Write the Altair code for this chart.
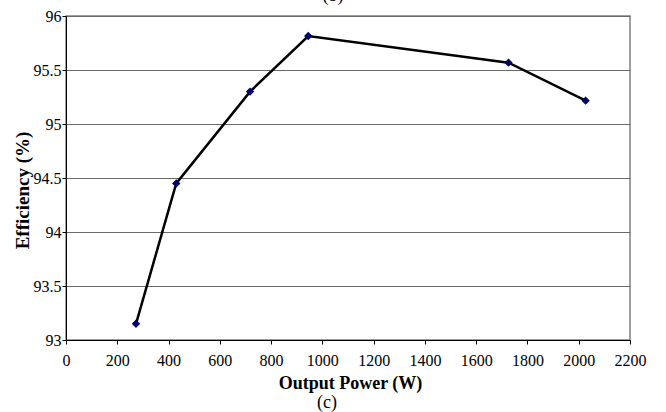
import altair as alt
import pandas as pd

# Data
power = [273, 430, 718, 945, 1726, 2027]
efficiency = [93.15, 94.45, 95.30, 95.815, 95.568, 95.216]
x_ticks = list(range(0, 2201, 200))
y_ticks = [93, 93.5, 94, 94.5, 95, 95.5, 96]
top_caption = ["(b)"]
bottom_caption = ["(c)"]

FONT = "Liberation Serif"

df = pd.DataFrame({"power": power, "eff": efficiency})

x_enc = alt.X(
    "power:Q",
    scale=alt.Scale(domain=[0, 2200], nice=False, zero=True),
    axis=alt.Axis(
        values=x_ticks,
        format="d",
        title="Output Power (W)",
        grid=False,
        domainColor="black",
        tickColor="black",
        tickSize=4,
        labelPadding=8,
        labelFont=FONT,
        labelFontSize=16,
        labelColor="black",
        titleFont=FONT,
        titleFontSize=18,
        titleFontWeight="bold",
        titleColor="black",
        titleX=284,
        titleY=48,
        titleAnchor="middle",
        titleAlign="center",
        titleBaseline="alphabetic",
        labelFlush=False,
    ),
)

y_enc = alt.Y(
    "eff:Q",
    scale=alt.Scale(domain=[93, 96], nice=False, zero=False),
    axis=alt.Axis(
        values=y_ticks,
        format=".1~f",
        title="Efficiency (%)",
        grid=True,
        gridColor="#6a6a6a",
        gridWidth=1,
        domainColor="black",
        tickColor="black",
        tickSize=4,
        labelPadding=1,
        labelFont=FONT,
        labelFontSize=16,
        labelColor="black",
        titleFont=FONT,
        titleFontSize=19,
        titleFontWeight="bold",
        titleColor="black",
        titleX=-44,
        titleY=174,
        titleAlign="center",
        titleBaseline="middle",
        titleAngle=270,
        labelFlush=False,
    ),
)

base = alt.Chart(df)

line = base.mark_line(color="black", strokeWidth=2.5).encode(x=x_enc, y=y_enc)
points = base.mark_point(
    shape="diamond", filled=True, color="#000066", size=70, opacity=1
).encode(x="power:Q", y="eff:Q")

cap_b = alt.Chart(pd.DataFrame({"t": top_caption})).mark_text(
    font=FONT, fontSize=18, color="black", align="center", baseline="alphabetic"
).encode(text="t:N", x=alt.value(267), y=alt.value(-15))

cap_c = alt.Chart(pd.DataFrame({"t": bottom_caption})).mark_text(
    font=FONT, fontSize=18, color="black", align="center", baseline="alphabetic"
).encode(text="t:N", x=alt.value(261), y=alt.value(392))

chart = (
    alt.layer(line, points, cap_b, cap_c)
    .properties(
        width=564,
        height=324,
        autosize=alt.AutoSizeParams(type="none"),
        padding={"left": 66, "top": 16, "right": 36, "bottom": 72},
        background="white",
    )
    .configure_view(stroke="#808080", strokeWidth=1.5)
    .configure_axis(labelFont=FONT, titleFont=FONT)
)

chart.save("out.html", embed_options={"renderer": "svg", "actions": False})
